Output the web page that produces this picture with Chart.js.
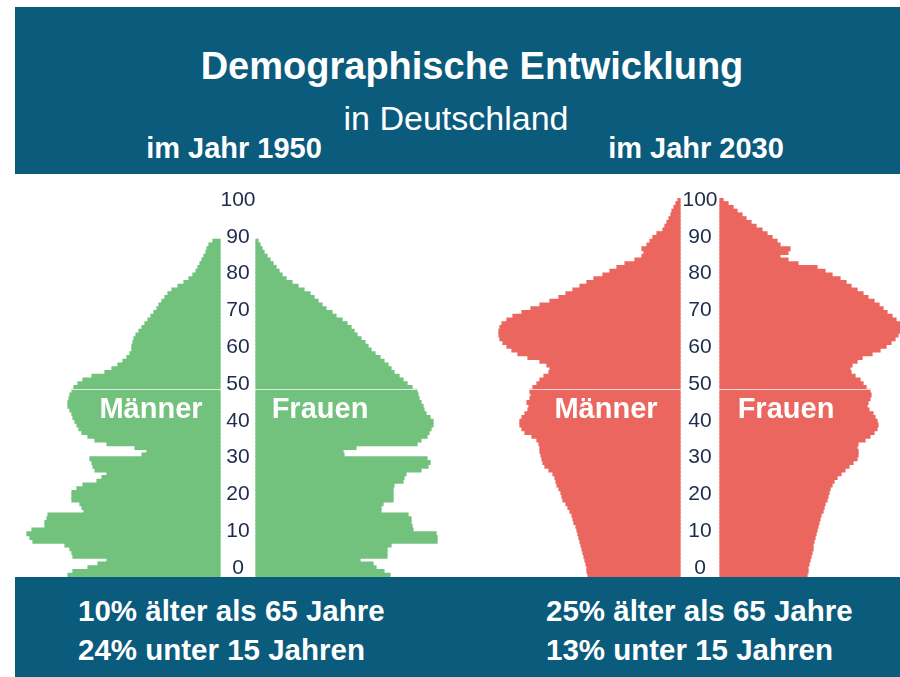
<!DOCTYPE html>
<html><head><meta charset="utf-8">
<script src="https://cdn.jsdelivr.net/npm/chart.js@4.4.1/dist/chart.umd.min.js"></script>
<style>
html,body{margin:0;padding:0;}
body{width:900px;height:677px;position:relative;overflow:hidden;background:#fff;font-family:"Liberation Sans",Arial,sans-serif;}
.band{position:absolute;left:15px;width:885px;background:#0b5b7d;}
.t{position:absolute;color:#fff;white-space:nowrap;line-height:1;}
.c{text-align:center;width:600px;}
canvas{position:absolute;}
</style></head><body>
<div class="band" style="top:7px;height:167px"></div>
<div class="t c" style="left:172px;top:47px;font-size:38px;font-weight:bold">Demographische Entwicklung</div>
<div class="t c" style="left:156px;top:101px;font-size:34px">in Deutschland</div>
<div class="t c" style="left:-66px;top:134px;font-size:29px;font-weight:bold">im Jahr 1950</div>
<div class="t c" style="left:396px;top:134px;font-size:29px;font-weight:bold">im Jahr 2030</div>

<canvas id="c1" width="476" height="387" style="left:0;top:190px"></canvas>
<canvas id="c2" width="420" height="387" style="left:490px;top:190px"></canvas>

<div class="t c" style="left:-149px;top:394px;font-size:29px;font-weight:bold">Männer</div>
<div class="t c" style="left:20px;top:394px;font-size:29px;font-weight:bold">Frauen</div>
<div class="t c" style="left:306px;top:394px;font-size:29px;font-weight:bold">Männer</div>
<div class="t c" style="left:486px;top:394px;font-size:29px;font-weight:bold">Frauen</div>

<div class="band" style="top:577px;height:100px"></div>
<div class="t" style="left:78px;top:596px;font-size:29.5px;font-weight:bold">10% älter als 65 Jahre</div>
<div class="t" style="left:78px;top:635px;font-size:29.5px;font-weight:bold">24% unter 15 Jahren</div>
<div class="t" style="left:546px;top:596px;font-size:29.5px;font-weight:bold">25% älter als 65 Jahre</div>
<div class="t" style="left:546px;top:635px;font-size:29.5px;font-weight:bold">13% unter 15 Jahren</div>

<script>
// Ages 0..100 (single years)
const ages = Array.from({length: 101}, (_, i) => i);
// Age tick labels in the middle column
const ageTicks = [0, 10, 20, 30, 40, 50, 60, 70, 80, 90, 100];

// Population per single year of age, thousands
const men1950 = [
  608,588,528,488,452,588,592,600,620,748,
  760,772,752,700,700,692,688,544,552,560,
  592,592,592,572,548,492,472,452,500,508,
  512,520,312,292,340,452,500,528,552,564,
  572,580,588,592,600,608,608,604,600,592,
  584,568,548,512,460,432,408,388,372,360,
  352,352,348,344,336,324,312,300,288,276,
  264,252,244,232,220,208,192,168,144,124,
  108,96,88,80,72,64,56,52,44,28,
  0,0,0,0,0,0,0,0,0,0,0
];
const women1950 = [
  536,512,480,468,416,524,524,524,540,724,
  724,720,628,624,620,620,608,500,500,508,
  548,548,548,548,552,588,592,600,660,688,
  696,684,352,348,400,644,660,684,692,700,
  708,708,696,680,672,668,660,652,648,644,
  624,604,588,572,552,540,528,512,496,476,
  460,448,436,420,404,392,380,364,344,320,
  304,280,264,248,232,216,192,168,144,120,
  104,92,80,68,56,44,32,24,16,8,
  0,0,0,0,0,0,0,0,0,0,0
];
const men2030 = [
  368,372,372,376,380,384,388,392,396,400,
  404,408,412,416,424,428,432,440,448,456,
  468,472,476,484,492,496,500,508,524,540,
  548,552,556,560,560,564,572,592,620,632,
  640,640,632,620,608,604,612,600,596,600,
  588,572,560,544,524,520,532,560,608,648,
  672,692,708,720,724,724,720,712,692,668,
  632,596,560,520,484,456,428,400,372,344,
  308,280,252,220,180,152,144,152,132,120,
  108,92,68,60,52,44,36,32,24,16,8
];
const women2030 = [
  348,352,352,356,360,364,368,372,372,376,
  380,384,388,392,396,400,404,412,416,420,
  428,432,436,440,448,456,468,484,500,516,
  532,548,552,552,548,552,580,600,616,628,
  632,628,620,612,596,588,592,600,604,600,
  584,572,560,540,524,520,528,548,568,608,
  640,664,684,700,712,720,724,720,704,688,
  668,652,636,616,592,572,548,524,504,480,
  448,420,388,312,272,240,272,280,240,228,
  208,188,168,144,124,104,88,68,52,32,12
];

const GREEN = '#72c27e';
const RED = '#eb665f';

const middlePlugin = {
  id: 'middle',
  afterDatasetsDraw(chart) {
    const ctx = chart.ctx, xs = chart.scales.x, ys = chart.scales.y, yl = chart.scales.yl;
    const area = chart.chartArea;
    ctx.save();
    const yy = Math.round((ys.getPixelForValue(49) + ys.getPixelForValue(50)) / 2) + 0.5;
    ctx.strokeStyle = 'rgba(255,255,255,0.75)';
    ctx.lineWidth = 1;
    ctx.beginPath(); ctx.moveTo(area.left, yy); ctx.lineTo(area.right, yy); ctx.stroke();
    ctx.font = '21px "Liberation Sans", Arial, sans-serif';
    ctx.fillStyle = '#1d2b4c';
    ctx.textAlign = 'center';
    ctx.textBaseline = 'middle';
    const cx = xs.getPixelForValue(0);
    ageTicks.forEach(v => ctx.fillText(String(v), cx, yl.getPixelForValue(v)));
    ctx.restore();
  }
};

function pyramid(id, men, women, color, half, gap) {
  new Chart(document.getElementById(id), {
    type: 'bar',
    data: {
      labels: ages,
      datasets: [
        { data: men.map(v => v > 0 ? [-gap - v, -gap] : null), backgroundColor: color },
        { data: women.map(v => v > 0 ? [gap, gap + v] : null), backgroundColor: color }
      ]
    },
    options: {
      indexAxis: 'y',
      responsive: false,
      animation: false,
      events: [],
      layout: { padding: { top: 8, bottom: 0, left: 0, right: 0 } },
      datasets: { bar: { grouped: false, barPercentage: 1, categoryPercentage: 1, borderWidth: 0, inflateAmount: 0.6 } },
      plugins: { legend: { display: false }, tooltip: { enabled: false } },
      scales: {
        x: { type: 'linear', display: false, min: -half, max: half, offset: false },
        y: { type: 'category', display: false, reverse: true, offset: true },
        yl: { type: 'linear', axis: 'y', display: false, offset: false, min: -2.45, max: 100.55 }
      }
    },
    plugins: [middlePlugin]
  });
}

pyramid('c1', men1950, women1950, GREEN, 952, 72);
pyramid('c2', men2030, women2030, RED, 840, 80);
</script>
</body></html>
